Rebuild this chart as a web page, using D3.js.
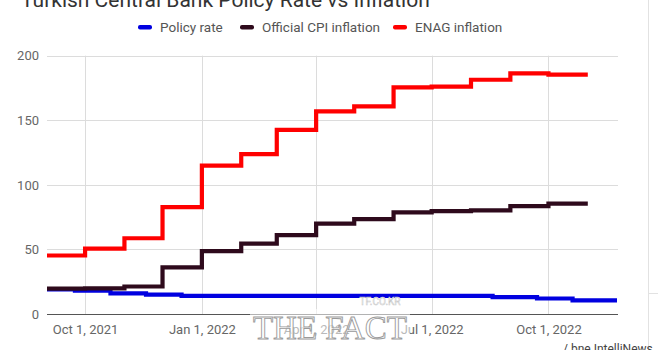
<!DOCTYPE html>
<html>
<head>
<meta charset="utf-8">
<script src="https://cdn.jsdelivr.net/npm/d3@7"></script>
<style>
  html, body { margin: 0; padding: 0; background: #fff; }
  svg { display: block; font-family: Roboto, "Noto Sans", sans-serif; }
</style>
</head>
<body>
<svg id="chart" width="658" height="350"></svg>
<script>
// ---- data ----
const title = "Turkish Central Bank Policy Rate vs Inflation";
const seriesNames = ["Policy rate", "Official CPI inflation", "ENAG inflation"];
const seriesColors = ["#0000e0", "#2e0a1c", "#ff0000"];

const months = ["2021-09-01","2021-10-01","2021-11-01","2021-12-01","2022-01-01","2022-02-01",
                "2022-03-01","2022-04-01","2022-05-01","2022-06-01","2022-07-01","2022-08-01",
                "2022-09-01","2022-10-01"];
const monthsEnd = "2022-11-01";
const cpi  = [19.58, 19.89, 21.31, 36.08, 48.69, 54.44, 61.14, 69.97, 73.50, 78.62, 79.60, 80.21, 83.45, 85.51];
const enag = [45.31, 50.66, 58.65, 82.81, 114.87, 123.80, 142.63, 156.86, 160.76, 175.43, 176.04, 181.37, 186.27, 185.34];

const rateDates = ["2021-09-01","2021-09-23","2021-10-21","2021-11-18","2021-12-16","2022-08-18","2022-09-22","2022-10-20"];
const rateEnd = "2022-11-24";
const rates = [19, 18, 16, 15, 14, 13, 12, 10.5];

const xTicks = ["2021-10-01","2022-01-01","2022-04-01","2022-07-01","2022-10-01"];
const yTicks = [0, 50, 100, 150, 200];
const source = "/ bne IntelliNews";

// ---- drawing ----
const parse = d3.utcParse("%Y-%m-%d");
const fmt = d3.utcFormat("%b %-d, %Y");
const svg = d3.select("#chart");

const x = d3.scaleUtc().domain([parse("2021-09-01"), parse(rateEnd)]).range([47, 617]);
const y = d3.scaleLinear().domain([0, 200]).range([314, 55.7]);

// frame lines on the right
svg.append("line").attr("x1", 648.5).attr("x2", 648.5).attr("y1", 0).attr("y2", 350)
  .attr("stroke", "#e2e2e2");
svg.append("line").attr("x1", 648).attr("x2", 658).attr("y1", 293.5).attr("y2", 293.5)
  .attr("stroke", "#e2e2e2");

// title (cut off at top)
svg.append("text").attr("x", 21).attr("y", 7).attr("font-size", 21)
  .attr("fill", "#333").text(title);

// gridlines
const grid = svg.append("g");
grid.selectAll("line.h").data(yTicks.filter(d => d > 0)).join("line")
  .attr("x1", 47).attr("x2", 618).attr("y1", d => Math.round(y(d)) + 0.5).attr("y2", d => Math.round(y(d)) + 0.5)
  .attr("stroke", "#dcdcdc");
grid.selectAll("line.v").data(xTicks.map(parse)).join("line")
  .attr("x1", d => Math.round(x(d)) + 0.5).attr("x2", d => Math.round(x(d)) + 0.5)
  .attr("y1", 55.7).attr("y2", 314)
  .attr("stroke", "#dcdcdc");

// y axis labels
const yAxis = d3.axisLeft(y).tickValues(yTicks).tickSize(0).tickPadding(8);
const yg = svg.append("g").attr("transform", "translate(47,0)").call(yAxis);
yg.select(".domain").remove();
yg.selectAll("text").attr("font-size", 13).attr("fill", "#666").attr("font-family", "Roboto, sans-serif");

// x axis labels
const xAxis = d3.axisBottom(x).tickValues(xTicks.map(parse)).tickFormat(fmt).tickSize(0).tickPadding(11);
const xg = svg.append("g").attr("transform", "translate(0,314)").call(xAxis);
xg.select(".domain").remove();
xg.selectAll("text").attr("font-size", 13).attr("fill", "#666").attr("font-family", "Roboto, sans-serif");

// baseline
svg.append("line").attr("x1", 47).attr("x2", 618).attr("y1", Math.round(y(0)) + 0.5).attr("y2", Math.round(y(0)) + 0.5)
  .attr("stroke", "#555").attr("stroke-width", 1);

// series
const line = d3.line().x(d => x(d[0])).y(d => y(d[1])).curve(d3.curveStepAfter);
function stepData(dates, vals, end) {
  const pts = dates.map((d, i) => [parse(d), vals[i]]);
  pts.push([parse(end), vals[vals.length - 1]]);
  return pts;
}
const series = [
  stepData(rateDates, rates, rateEnd),
  stepData(months, cpi, monthsEnd),
  stepData(months, enag, monthsEnd)
];
series.forEach((s, i) => {
  svg.append("path").datum(s).attr("d", line)
    .attr("fill", "none").attr("stroke", seriesColors[i]).attr("stroke-width", 4.2);
});

// legend
const legendX = [138, 240, 393];
const lg = svg.append("g");
seriesNames.forEach((n, i) => {
  lg.append("rect").attr("x", legendX[i]).attr("y", 25).attr("width", 14).attr("height", 4.5)
    .attr("rx", 2).attr("fill", seriesColors[i]);
  lg.append("text").attr("x", legendX[i] + 22).attr("y", 31.5).attr("font-size", 13.5)
    .attr("fill", "#555").attr("font-family", "Roboto, sans-serif").text(n);
});

// source
svg.append("text").attr("x", 563).attr("y", 353).attr("font-size", 12).attr("fill", "#444").text(source);

// watermark overlay
const wm = svg.append("g");
wm.append("rect").attr("x", 250).attr("y", 309).attr("width", 160).attr("height", 36)
  .attr("fill", "#fff").attr("opacity", 0.55);
wm.append("text").attr("x", 330).attr("y", 339).attr("text-anchor", "middle")
  .attr("font-family", "'Liberation Serif', 'DejaVu Serif', serif").attr("font-size", 33)
  .attr("fill", "#fff").attr("fill-opacity", 0.6).attr("stroke", "#9a9a9a").attr("stroke-width", 0.9)
  .attr("textLength", 154).text("THE FACT");
wm.append("text").attr("x", 380).attr("y", 305).attr("text-anchor", "middle")
  .attr("font-size", 10).attr("fill", "#ffffff").attr("stroke", "#c8c8c8").attr("stroke-width", 0.5)
  .text("TF.CO.KR");
</script>
</body>
</html>
